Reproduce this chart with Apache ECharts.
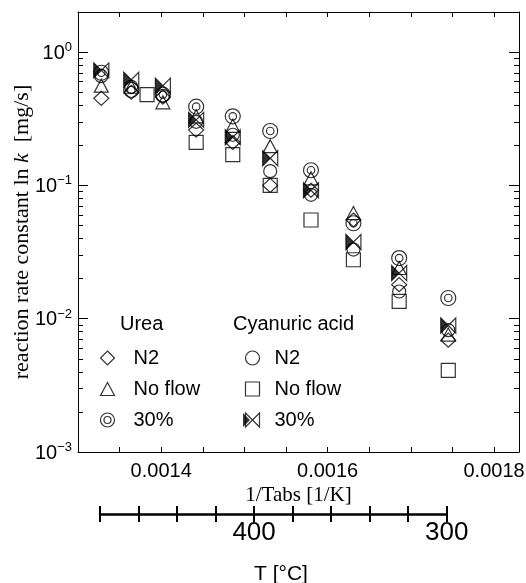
<!DOCTYPE html>
<html><head><meta charset="utf-8">
<script src="https://cdn.jsdelivr.net/npm/echarts@6/dist/echarts.min.js"></script>
<style>html,body{margin:0;padding:0;background:#fff}#c{width:526px;height:583px}</style>
</head><body><div id="c"></div>
<script>
// ---- data (x = 1/Tabs [1/K], y = k [mg/s]) ----
const invTemp = [0.001328, 0.001364, 0.001402, 0.001442, 0.001486, 0.001531, 0.001580, 0.001631, 0.001686, 0.001745];
const ureaN2     = [0.45, 0.50, 0.46, 0.26, 0.21, 0.100, 0.092, 0.055, 0.018, 0.0069];
const ureaNoFlow = [0.56, 0.55, 0.42, 0.33, 0.28, 0.197, 0.113, 0.062, 0.024, 0.0076];
const urea30     = [0.70, 0.52, 0.48, 0.39, 0.33, 0.256, 0.130, 0.052, 0.0285, 0.0143];
const caN2       = [0.66, 0.55, 0.47, 0.30, 0.24, 0.128, 0.085, 0.033, 0.016, 0.0082];
const ca30       = [0.73, 0.62, 0.56, 0.31, 0.23, 0.160, 0.092, 0.0376, 0.022, 0.0089];
const caNoFlowX  = [0.001383, 0.001442, 0.001486, 0.001531, 0.001580, 0.001631, 0.001686, 0.001745];
const caNoFlow   = [0.48, 0.21, 0.17, 0.100, 0.055, 0.0277, 0.0135, 0.0041];

// ---- axis ticks / labels ----
const xTicks  = [0.00130, 0.00135, 0.00140, 0.00145, 0.00150, 0.00155, 0.00160, 0.00165, 0.00170, 0.00175, 0.00180];
const xLabels = [0.0014, 0.0016, 0.0018];
const yMajor  = [0.001, 0.01, 0.1, 1];
const yMinor  = [0.002,0.003,0.004,0.005,0.006,0.007,0.008,0.009,
                 0.02,0.03,0.04,0.05,0.06,0.07,0.08,0.09,
                 0.2,0.3,0.4,0.5,0.6,0.7,0.8,0.9];
const tTicks  = [300, 320, 340, 360, 380, 400, 420, 440, 460, 480];
const tLabels = [300, 400];

const SANS = "'Liberation Sans', Arial, sans-serif";
const SERIF = "'Liberation Serif', 'Times New Roman', serif";

const P_DIAM = 'path://M7,0L14,7L7,14L0,7Z';
const P_TRI = 'path://M7,0L14,13L0,13Z';
const P_RECT = 'path://M0,0L14,0L14,14L0,14Z';
const P_CIRC = 'path://M0,7A7,7 0 1,0 14,7A7,7 0 1,0 0,7Z';
const P_DCIRC = 'path://M0,7A7,7 0 1,0 14,7A7,7 0 1,0 0,7ZM3.5,7A3.5,3.5 0 1,0 10.5,7A3.5,3.5 0 1,0 3.5,7Z';
const P_BOW = 'path://M0,0L14,14L14,0L0,14Z';
// left (filled) half of the bow-tie, padded with a zero-area point so its box is the full 14x14
const P_HALF = 'path://M0,0L7,7L0,14ZM14,14L14,14Z';

const outline = {color: 'none', borderColor: '#000', borderWidth: 1.2};
function pts(xs, ys) { return xs.map((x, i) => [x, ys[i]]); }
function sc(name, xs, ys, symbol, size, extra) {
  return Object.assign({
    type: 'scatter', name, xAxisIndex: 0, yAxisIndex: 0,
    data: pts(xs, ys), symbol, symbolSize: size,
    itemStyle: outline, emphasis: {disabled: true}, silent: true, z: 3
  }, extra || {});
}
const legItem = (name, icon) => ({name, icon, itemStyle: {color: 'none', borderColor: '#000', borderWidth: 1.2}});

const blk = {color: '#000', borderWidth: 0};
const option = {
  animation: false,
  backgroundColor: '#fff',
  grid: [
    {left: 78, right: 7, top: 12, height: 440, outerBoundsMode: 'none', containLabel: false},
    {left: 100, right: 79.3, top: 513, height: 1, outerBoundsMode: 'none', containLabel: false}
  ],
  title: [
    {text: 'Urea', left: 120, top: 314, padding: 0, textStyle: {fontFamily: SANS, fontSize: 20, fontWeight: 'normal', color: '#000'}},
    {text: 'Cyanuric acid', left: 233, top: 314, padding: 0, textStyle: {fontFamily: SANS, fontSize: 20, fontWeight: 'normal', color: '#000'}},
    {text: 'T [°C]', left: 254, top: 564, padding: 0, textStyle: {fontFamily: SANS, fontSize: 21, fontWeight: 'normal', color: '#000'}}
  ],
  legend: [
    {left: 98, top: 348, orient: 'vertical', itemWidth: 14, itemHeight: 14, itemGap: 11, selectedMode: false, padding: 0,
     formatter: n => n.split(' ').slice(1).join(' '),
     textStyle: {fontFamily: SANS, fontSize: 20, lineHeight: 20, color: '#000', padding: [0, 0, 0, 14]},
     data: [legItem('U N2', P_DIAM), legItem('U No flow', P_TRI), legItem('U 30%', P_DCIRC)]},
    {left: 243, top: 348, orient: 'vertical', itemWidth: 14, itemHeight: 14, itemGap: 11, selectedMode: false, padding: 0,
     formatter: n => n.split(' ').slice(1).join(' '),
     textStyle: {fontFamily: SANS, fontSize: 20, lineHeight: 20, color: '#000', padding: [0, 0, 0, 10]},
     data: [legItem('C N2', P_CIRC), legItem('C No flow', P_RECT), legItem('C 30%', P_BOW)]},
    {left: 243, top: 410, orient: 'vertical', itemWidth: 14, itemHeight: 14, itemGap: 11, selectedMode: false, padding: 0,
     formatter: () => ' ',
     textStyle: {fontFamily: SANS, fontSize: 20, lineHeight: 20, color: '#000'},
     data: [{name: 'C 30%fill', icon: P_HALF, itemStyle: {color: '#000', borderWidth: 0}}]}
  ],
  xAxis: [
    {gridIndex: 0, type: 'value', position: 'bottom', min: 0.0013, max: 0.00183,
     axisLine: {show: true, onZero: false, lineStyle: {color: '#000', width: 1}},
     axisTick: {show: true, inside: true, length: 5, customValues: xTicks, lineStyle: {color: '#000', width: 1}},
     axisLabel: {show: true, customValues: xLabels, formatter: v => v.toFixed(4), fontFamily: SANS, fontSize: 20, color: '#000', margin: 9},
     splitLine: {show: false},
     name: '1/Tabs [1/K]', nameLocation: 'middle', nameGap: 33, nameMoveOverlap: false,
     nameTextStyle: {fontFamily: SERIF, fontSize: 21, color: '#000'}},
    {gridIndex: 0, type: 'value', position: 'top', min: 0.0013, max: 0.00183,
     axisLine: {show: true, onZero: false, lineStyle: {color: '#000', width: 1}},
     axisTick: {show: true, inside: true, length: 5, customValues: xTicks, lineStyle: {color: '#000', width: 1}},
     axisLabel: {show: false}, splitLine: {show: false}},
    {gridIndex: 1, type: 'value', position: 'bottom', min: 300, max: 480, inverse: true,
     axisLine: {show: true, onZero: false, lineStyle: {color: '#000', width: 2.5}},
     axisTick: {show: true, inside: false, length: 8, customValues: tTicks, lineStyle: {color: '#000', width: 2}},
     axisLabel: {show: true, customValues: tLabels, fontFamily: SANS, fontSize: 26, color: '#000', margin: 6},
     splitLine: {show: false}},
    {gridIndex: 1, type: 'value', position: 'bottom', min: 300, max: 480, inverse: true,
     axisLine: {show: false},
     axisTick: {show: true, inside: true, length: 8, customValues: tTicks, lineStyle: {color: '#000', width: 2}},
     axisLabel: {show: false}, splitLine: {show: false}}
  ],
  yAxis: [
    {gridIndex: 0, type: 'log', logBase: 10, position: 'left', min: 0.001, max: 2,
     axisLine: {show: true, onZero: false, lineStyle: {color: '#000', width: 1}},
     axisTick: {show: true, inside: true, length: 10, customValues: yMajor, lineStyle: {color: '#000', width: 1}},
     axisLabel: {show: true, customValues: yMajor, margin: 6,
       formatter: v => { const n = Math.round(Math.log10(v)); return '{b|10}{s|' + (n < 0 ? '\u2212' + (-n) : n) + '}'; },
       rich: {b: {fontFamily: SANS, fontSize: 20, color: '#000', verticalAlign: 'bottom'},
              s: {fontFamily: SANS, fontSize: 13, color: '#000', verticalAlign: 'bottom', padding: [0, 0, 9, 0]}}},
     splitLine: {show: false}, minorTick: {show: false},
     name: 'reaction rate constant ln {i|k}  [mg/s]', nameLocation: 'middle', nameGap: 45, nameMoveOverlap: false,
     nameTextStyle: {fontFamily: SERIF, fontSize: 22, color: '#000',
       rich: {i: {fontFamily: SERIF, fontSize: 22, fontStyle: 'italic', color: '#000'}}}},
    {gridIndex: 0, type: 'log', logBase: 10, position: 'left', min: 0.001, max: 2,
     axisLine: {show: false},
     axisTick: {show: true, inside: true, length: 5, customValues: yMinor, lineStyle: {color: '#000', width: 1}},
     axisLabel: {show: false}, splitLine: {show: false}},
    {gridIndex: 0, type: 'log', logBase: 10, position: 'right', min: 0.001, max: 2,
     axisLine: {show: true, onZero: false, lineStyle: {color: '#000', width: 1}},
     axisTick: {show: true, inside: true, length: 10, customValues: yMajor, lineStyle: {color: '#000', width: 1}},
     axisLabel: {show: false}, splitLine: {show: false}},
    {gridIndex: 0, type: 'log', logBase: 10, position: 'right', min: 0.001, max: 2,
     axisLine: {show: false},
     axisTick: {show: true, inside: true, length: 5, customValues: yMinor, lineStyle: {color: '#000', width: 1}},
     axisLabel: {show: false}, splitLine: {show: false}},
    {gridIndex: 1, type: 'value', show: false, min: 0, max: 1}
  ],
  series: [
    sc('U N2', invTemp, ureaN2, 'diamond', [15, 14]),
    sc('U No flow', invTemp, ureaNoFlow, 'triangle', [14, 13]),
    sc('U 30%', invTemp, urea30, P_DCIRC, 15),
    sc('C N2', invTemp, caN2, 'circle', 13),
    sc('C No flow', caNoFlowX, caNoFlow, 'rect', 14),
    sc('C 30%', invTemp, ca30, P_BOW, 15),
    sc('C 30%fill', invTemp, ca30, P_HALF, 15, {itemStyle: blk})
  ]
};
const chart = echarts.init(document.getElementById('c'), null, {renderer: 'canvas'});
chart.setOption(option);
</script>
</body></html>
